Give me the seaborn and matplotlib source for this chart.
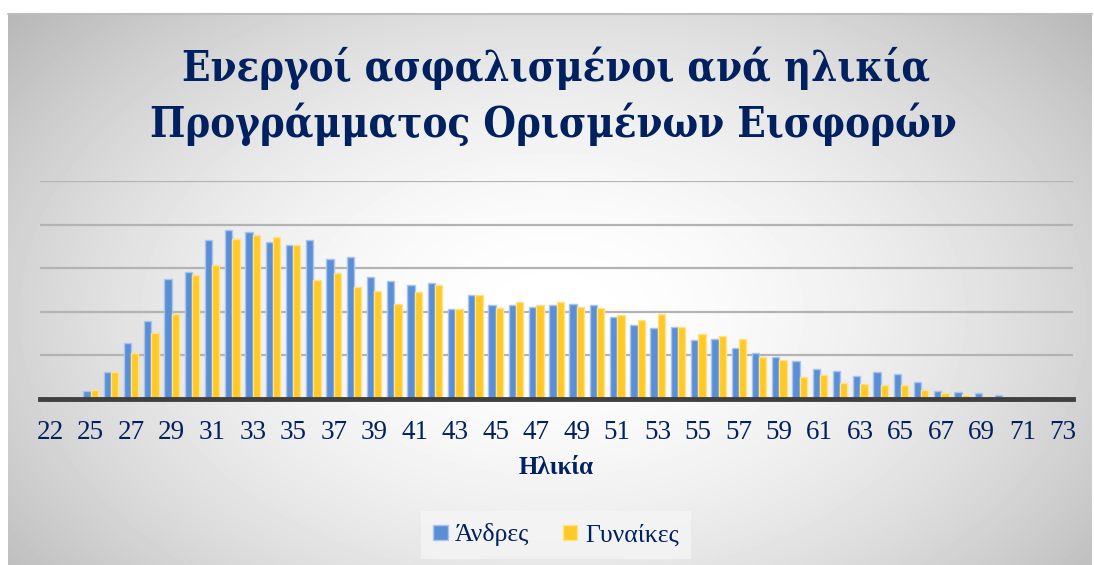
import numpy as np
import pandas as pd
import matplotlib
matplotlib.use("Agg")
import matplotlib.pyplot as plt
import seaborn as sns

# ages on the x axis (the second category has no label visible in the chart)
ages = [22, 24] + list(range(25, 74))

andres = [0, 0, 19, 63, 129, 180, 276, 291, 365, 388, 384, 361, 353, 365, 321, 326,
          280, 271, 262, 266, 206, 238, 216, 216, 211, 216, 218, 216, 189, 170, 163,
          165, 135, 138, 117, 106, 96, 87, 69, 64, 53, 63, 57, 39, 19, 16, 14, 9,
          1, 1, 0]
gynaikes = [0, 0, 21, 63, 105, 151, 196, 284, 307, 367, 377, 372, 353, 274, 289, 258,
            248, 218, 245, 262, 206, 238, 209, 223, 216, 223, 211, 209, 193, 181, 195,
            165, 149, 145, 138, 96, 89, 51, 55, 37, 34, 32, 32, 21, 14, 9, 4, 1,
            0.5, 0.5, 0]

series_names = ["Άνδρες", "Γυναίκες"]
title_lines = ["Ενεργοί ασφαλισμένοι ανά ηλικία", "Προγράμματος Ορισμένων Εισφορών"]
navy = "#002060"

df = pd.DataFrame({
    "Ηλικία": [str(a) for a in ages] * 2,
    "value": andres + gynaikes,
    "sex": [series_names[0]] * len(ages) + [series_names[1]] * len(ages),
})

sns.set_theme(style="white")
plt.rcParams["font.family"] = ["Liberation Serif", "DejaVu Serif"]

fig = plt.figure(figsize=(10.94, 5.65), dpi=100)
fig.patch.set_facecolor("white")

# radial grey-white background of the chart frame
bg = fig.add_axes([8 / 1094, 0, (1092 - 8) / 1094, (565 - 14) / 565])
yy, xx = np.mgrid[0:551, 0:1084]
r = np.sqrt(((xx - 545) / 620.0) ** 2 + ((yy - 300) / 400.0) ** 2)
shade = 1 - 0.22 * np.clip(r, 0, 1.3) ** 1.8
bg.imshow(shade, cmap="gray", vmin=0, vmax=1, aspect="auto", interpolation="bilinear")
bg.set_axis_off()
fig.add_artist(plt.Line2D([8 / 1094, 1092 / 1094], [1 - 14 / 565] * 2,
                          transform=fig.transFigure, color="#bdbdbd", lw=1.5))

ax = fig.add_axes([40 / 1094, 1 - 399 / 565, (1073 - 40) / 1094, (399 - 181) / 565])
ax.set_facecolor("none")
sns.barplot(data=df, x="Ηλικία", y="value", hue="sex", ax=ax, width=0.72,
            palette=["#5a8fd6", "#ffc928"], saturation=1, zorder=3)
for bar in ax.patches:
    fc = bar.get_facecolor()
    bar.set_edgecolor("#a9c5ee" if fc[2] > 0.5 else "#ffe28a")
    bar.set_linewidth(1)

ax.set_ylim(0, 500)
ax.set_yticks([0, 100, 200, 300, 400, 500])
ax.set_yticklabels([])
ax.yaxis.grid(True, color="#b3b3b3", lw=1.6, zorder=0)
ax.set_axisbelow(True)
for s in ["top", "left", "right"]:
    ax.spines[s].set_visible(False)
ax.spines["bottom"].set_color("#404040")
ax.spines["bottom"].set_linewidth(3.5)
ax.spines["bottom"].set_zorder(4)

labels = [str(a) if i % 2 == 0 else "" for i, a in enumerate(ages)]
ax.set_xticks(range(len(ages)))
ax.set_xticklabels(labels, fontsize=19.5, color=navy)
ax.tick_params(axis="x", length=0, pad=15)
ax.tick_params(axis="y", length=0)
ax.set_ylabel("")
ax.set_xlabel("Ηλικία", fontsize=18, fontweight="bold", color=navy, labelpad=8)

handles, lbls = ax.get_legend_handles_labels()
ax.get_legend().remove()
leg = fig.legend(handles, lbls, loc="center", bbox_to_anchor=(556 / 1094, 1 - 535 / 565),
                 ncol=2, frameon=True, facecolor="#f5f5f5", edgecolor="none", fancybox=False,
                 fontsize=18.5, handlelength=0.55, handleheight=0.55, handletextpad=0.3,
                 columnspacing=1.3, borderpad=0.5)
for t in leg.get_texts():
    t.set_color(navy)

title_font = dict(ha="center", va="baseline", fontsize=30, fontweight="bold",
                  color=navy, family=["DejaVu Serif", "Liberation Serif"],
                  fontstretch="condensed")
fig.text(556 / 1094, 1 - 81 / 565, title_lines[0], **title_font)
fig.text(553 / 1094, 1 - 137 / 565, title_lines[1], **title_font)

fig.savefig("out.png", dpi=100)
